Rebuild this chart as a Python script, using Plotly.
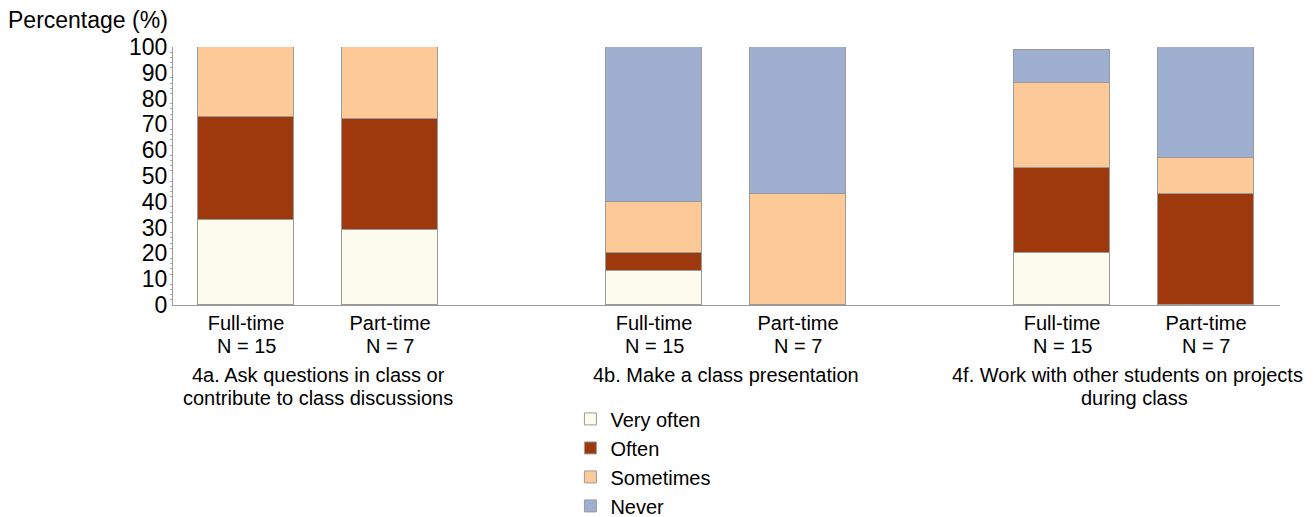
import plotly.graph_objects as go

groups = [["4a. Ask questions in class or", "contribute to class discussions"],
          ["4b. Make a class presentation"],
          ["4f. Work with other students on projects", "during class"]]
statuses = ["Full-time", "Part-time"]
counts = ["N = 15", "N = 7"]

series = ["Very often", "Often", "Sometimes", "Never"]
colors = ["#FEFCEC", "#9E390D", "#FDC998", "#9FAFD0"]

# values per bar in order: 4a FT, 4a PT, 4b FT, 4b PT, 4f FT, 4f PT
very_often = [33, 29, 13, 0, 20, 0]
often = [40, 43, 7, 0, 33, 43]
sometimes = [27, 28, 20, 43, 33, 14]
never = [0, 0, 60, 57, 13, 43]
values = [very_often, often, sometimes, never]

gap = 408 / 144
xs = []
ticktext = []
for g in range(len(groups)):
    for i in range(len(statuses)):
        xs.append(g * gap + i)
        ticktext.append(statuses[i])

fig = go.Figure()
for name, col, vals in zip(series, colors, values):
    fig.add_trace(go.Bar(
        x=xs, y=[v if v else None for v in vals], name=name, width=0.667,
        marker=dict(color=col, line=dict(color="#9a9a9a", width=1)),
    ))

# second line of tick labels (N counts)
for x, i in zip(xs, [0, 1] * len(groups)):
    fig.add_annotation(x=x, y=-0.159, xref="x", yref="paper",
                       text=counts[i], showarrow=False, yanchor="middle",
                       font=dict(size=20, color="#000"))

# group labels
group_line_y = [-0.271, -0.360]
for g, lines in enumerate(groups):
    for k, line in enumerate(lines):
        shift = -7 if (g == len(groups) - 1 and k == 0) else 0
        fig.add_annotation(x=g * gap + 0.5, y=group_line_y[k], xref="x",
                           yref="paper", text=line, showarrow=False,
                           xshift=shift, yanchor="middle",
                           font=dict(size=20, color="#000"))

fig.add_annotation(x=-0.151, y=1.105, xref="paper", yref="paper",
                   text="Percentage (%)", showarrow=False,
                   xanchor="left", yanchor="middle",
                   font=dict(size=23, color="#000"))

fig.update_layout(
    barmode="stack",
    width=1307, height=509,
    margin=dict(l=165, r=35, t=39, b=212),
    plot_bgcolor="white", paper_bgcolor="white",
    font=dict(family="Liberation Sans, Arial, sans-serif", color="#000"),
    xaxis=dict(range=[-0.507, 7.18], tickvals=xs, ticktext=ticktext,
               showgrid=False, zeroline=False, showline=True,
               linecolor="#999", linewidth=1, ticks="",
               tickfont=dict(size=20), automargin=False),
    yaxis=dict(range=[0, 100], dtick=10, showgrid=False, zeroline=False,
               showline=True, linecolor="#999", linewidth=1,
               ticks="", tickfont=dict(size=23), automargin=False,
               ticklabelstandoff=0,
               minor=dict(dtick=2, ticks="outside", ticklen=2,
                          tickcolor="#aaa", showgrid=False)),
    legend=dict(orientation="v", x=0.359, y=0.231, xanchor="left",
                yanchor="top", yref="container", traceorder="normal",
                font=dict(size=20), bgcolor="rgba(0,0,0,0)",
                tracegroupgap=0),
    showlegend=True,
    bargap=0,
)

fig.write_html("out.html")
